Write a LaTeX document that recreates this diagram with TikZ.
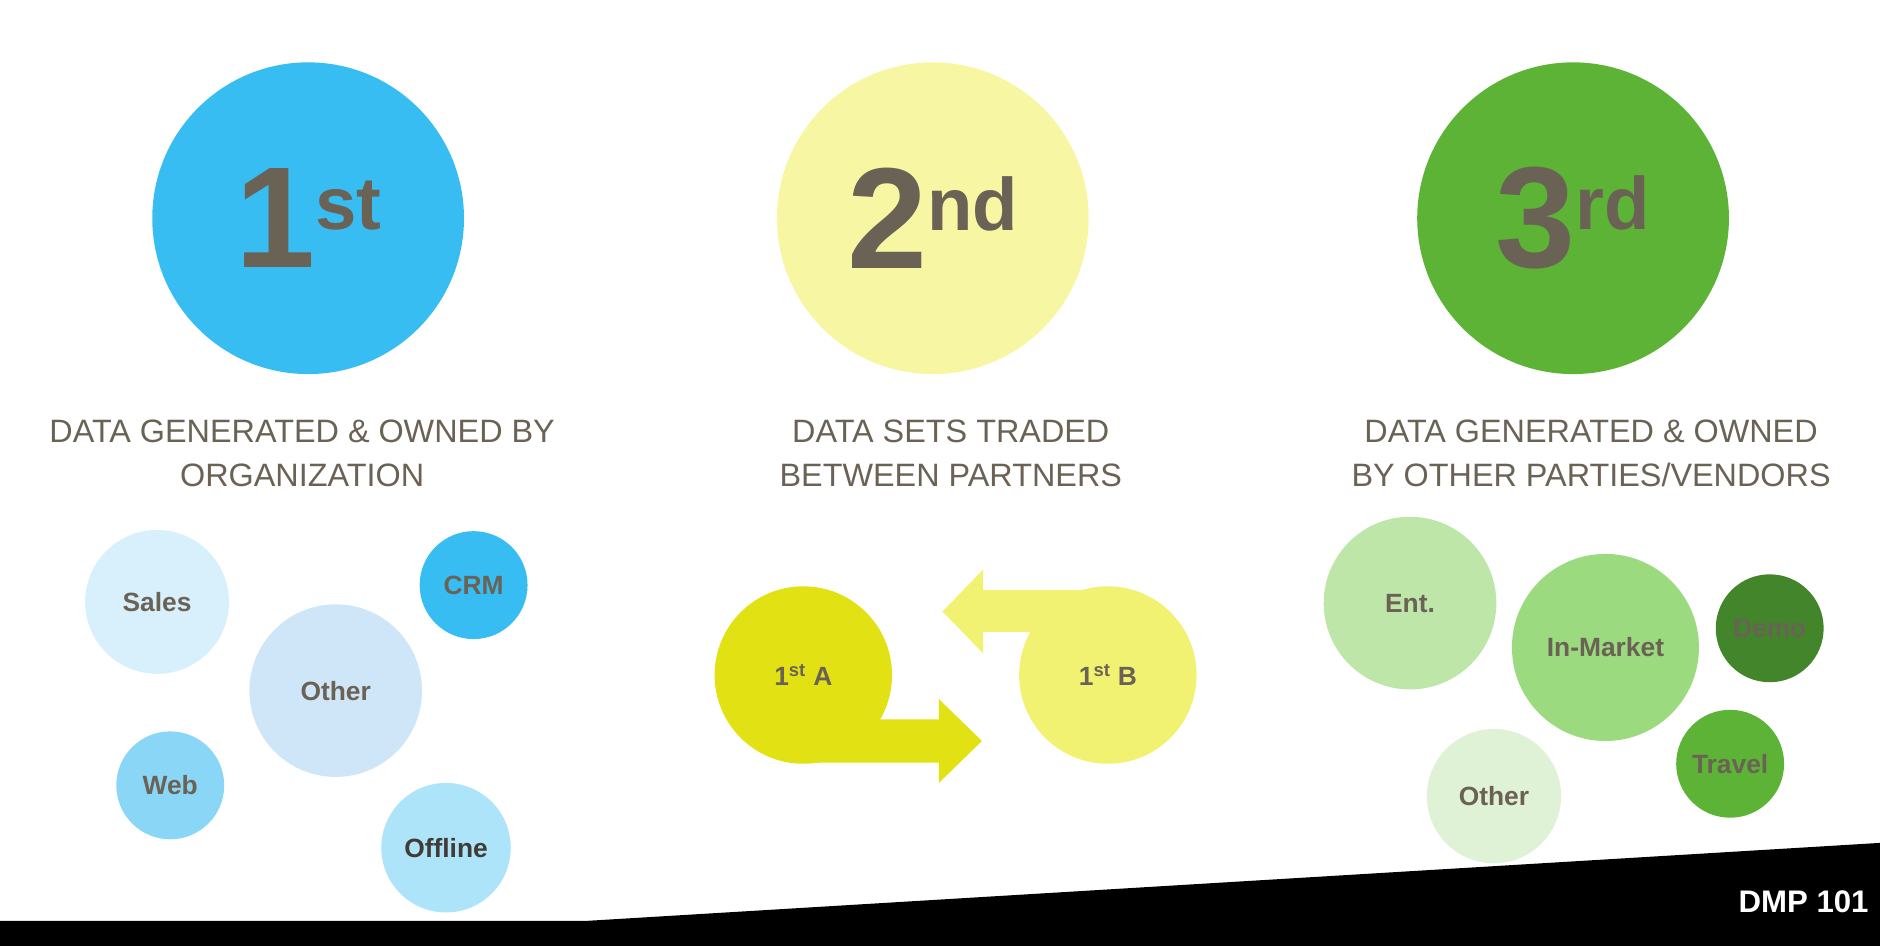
\documentclass[tikz,border=0pt]{standalone}
\usepackage{fontspec}
\setmainfont{Liberation Sans}
\usetikzlibrary{calc}
\definecolor{ink}{RGB}{107, 98, 86}
\definecolor{blueA}{RGB}{56, 189, 242}
\definecolor{blueB}{RGB}{216, 240, 251}
\definecolor{blueC}{RGB}{207, 230, 248}
\definecolor{blueD}{RGB}{138, 214, 246}
\definecolor{blueE}{RGB}{174, 228, 249}
\definecolor{yelA}{RGB}{247, 247, 163}
\definecolor{yelB}{RGB}{226, 225, 19}
\definecolor{yelC}{RGB}{242, 242, 114}
\definecolor{grnA}{RGB}{93, 179, 54}
\definecolor{grnB}{RGB}{190, 230, 169}
\definecolor{grnC}{RGB}{155, 218, 126}
\definecolor{grnD}{RGB}{67, 133, 42}
\definecolor{grnE}{RGB}{223, 242, 213}
\tikzset{
  bubble/.style={circle, inner sep=0pt, text=ink, font=\fontsize{22}{24}\selectfont\bfseries},
  bigbubble/.style={circle, inner sep=0pt, minimum size=260pt, text=ink,
    font=\fontsize{120}{120}\selectfont\bfseries},
  caption/.style={text=ink, align=center, font=\fontsize{27}{37}\selectfont}
}
\begin{document}
\begin{tikzpicture}[x=1pt, y=-1pt]
  \useasboundingbox (0,0) rectangle (1568,789);

  % big ones
  \node[bigbubble, fill=blueA] (first) at (257,182) {1\raisebox{32pt}{\fontsize{62}{62}\selectfont st}};
  \node[bigbubble, fill=yelA] (second) at (778,182) {2\raisebox{32pt}{\fontsize{62}{62}\selectfont nd}};
  \node[bigbubble, fill=grnA] (third) at (1312,182) {3\raisebox{32pt}{\fontsize{62}{62}\selectfont rd}};

  \node[caption] (capA) at (252,378) {DATA GENERATED \& OWNED BY\\ORGANIZATION};
  \node[caption] (capB) at (793,378) {DATA SETS TRADED\\BETWEEN PARTNERS};
  \node[caption] (capC) at (1327,378) {DATA GENERATED \& OWNED\\BY OTHER PARTIES/VENDORS};

  % first party
  \node[bubble, fill=blueB, minimum size=120pt] (sales) at (131,502) {Sales};
  \node[bubble, fill=blueA, minimum size=90pt] (crm) at (395,488) {CRM};
  \node[bubble, fill=blueC, minimum size=144pt] (otherA) at (280,576) {Other};
  \node[bubble, fill=blueD, minimum size=90pt] (web) at (142,655) {Web};
  \node[bubble, fill=blueE, minimum size=108pt, text=ink!60!black] (offline) at (372,707) {Offline};

  % second party
  \fill[yelC] (924,492) -- (820,492) -- (820,475) -- (786,510) -- (820,545) -- (820,527) -- (924,527) -- cycle;
  \node[bubble, fill=yelB, minimum size=148pt] (partA) at (670,563) {1\textsuperscript{st} A};
  \fill[yelB] (670,600) -- (783,600) -- (783,583) -- (819,618) -- (783,653) -- (783,636) -- (670,636) -- cycle;
  \node[bubble, fill=yelC, minimum size=148pt] (partB) at (924,563) {1\textsuperscript{st} B};

  % third party
  \node[bubble, fill=grnB, minimum size=144pt] (ent) at (1176,503) {Ent.};
  \node[bubble, fill=grnC, minimum size=156pt] (market) at (1339,540) {In-Market};
  \node[bubble, fill=grnD, minimum size=90pt] (demo) at (1476,524) {Demo};
  \node[bubble, fill=grnA, minimum size=90pt] (travel) at (1443,637) {Travel};
  \node[bubble, fill=grnE, minimum size=112pt] (otherC) at (1246,664) {Other};

  % band
  \fill[black] (0,768) -- (490,768) -- (1568,703) -- (1568,789) -- (0,789) -- cycle;
  \node[anchor=east, text=white, font=\fontsize{26}{28}\selectfont\bfseries] (tag) at (1562,752) {DMP 101};
\end{tikzpicture}
\end{document}
